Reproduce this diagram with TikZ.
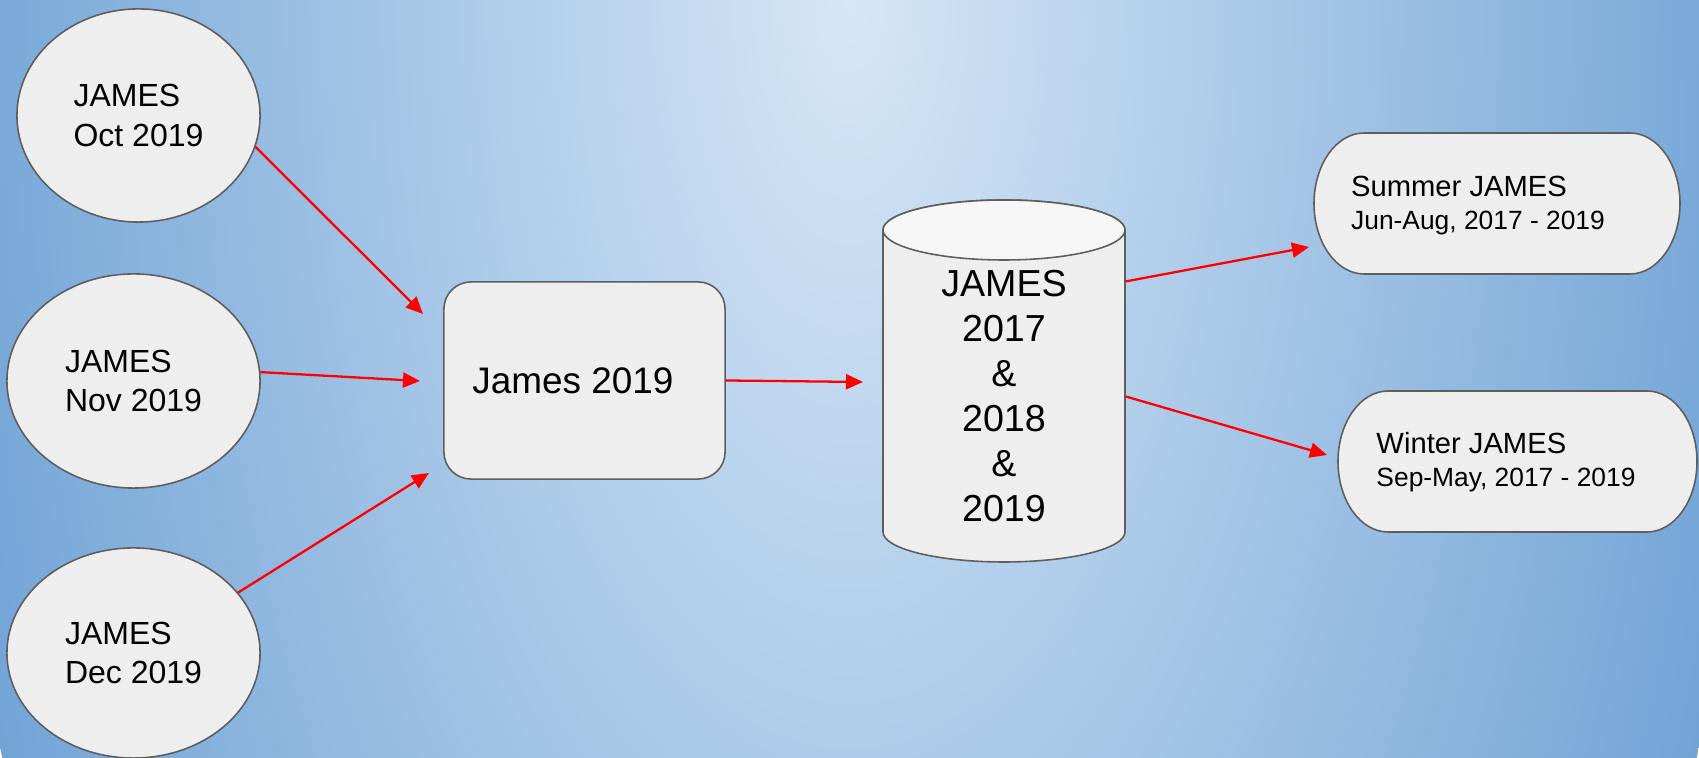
\documentclass[tikz,border=0pt]{standalone}
\usepackage{fontspec}
\setmainfont{Liberation Sans}
\usetikzlibrary{shapes.geometric, arrows.meta}

\definecolor{bginner}{HTML}{D6E6F6}
\definecolor{bgouter}{HTML}{72A4D6}
\definecolor{boxfill}{HTML}{EEEEEE}
\definecolor{capfill}{HTML}{F6F6F6}
\definecolor{edge}{HTML}{5E5E5E}

\begin{document}
\begin{tikzpicture}[x=0.01cm, y=0.01cm,
    feed/.style={red, line width=0.65pt, -{Triangle[length=0.17cm, width=0.15cm]}},
    shell/.style={draw=edge, fill=boxfill, line width=0.45pt},
    month/.style={shell, ellipse, inner sep=0pt, align=left,
        font=\fontsize{9.1pt}{11.1pt}\selectfont},
    season/.style={align=left, inner sep=0pt,
        font=\fontsize{7.5pt}{9.3pt}\selectfont}]

    % Background with padding
    \useasboundingbox (0,0) rectangle (1699,758);
    \begin{scope}
        \clip (0,0) rectangle (1699,758);
        \shade[inner color=bginner, outer color=bgouter]
            (849.5,758) ellipse [x radius=924, y radius=1895];
    \end{scope}

    % Monthly files
    \node[month, minimum width=2.43cm, minimum height=2.13cm] (oct) at (138.5,642.5) {JAMES\\Oct 2019};
    \node[month, minimum width=2.53cm, minimum height=2.14cm] (nov) at (133.5,377) {JAMES\\Nov 2019};
    \node[month, minimum width=2.53cm, minimum height=2.10cm] (dec) at (133.5,105) {JAMES\\Dec 2019};

    % Yearly file
    \node[shell, rounded corners=0.27cm, minimum width=2.81cm, minimum height=1.97cm,
        font=\fontsize{10.5pt}{12pt}\selectfont] (year) at (584.5,377.5) {James 2019\hspace*{0.23cm}};

    % Database cylinder
    \path[shell] (883,528) -- (883,226)
        arc[start angle=180, end angle=360, x radius=121, y radius=30]
        -- (1125,528)
        arc[start angle=0, end angle=180, x radius=121, y radius=30] -- cycle;
    \draw[shell, fill=capfill] (1004,528) ellipse [x radius=121, y radius=30];
    \node[align=center, minimum width=2.42cm, inner sep=0pt,
        font=\fontsize{10.7pt}{12.8pt}\selectfont] (db) at (1004,361.5)
        {JAMES\\2017\\\&\\2018\\\&\\2019};

    % Seasonal files
    \path[shell] (1364,625) -- (1630,625)
        arc[start angle=90, end angle=-90, x radius=50, y radius=70.5]
        -- (1364,484)
        arc[start angle=270, end angle=90, x radius=50, y radius=70.5] -- cycle;
    \node[season] (summer) at (1478,552.5)
        {{\fontsize{8.3pt}{9.3pt}\selectfont Summer JAMES}\\Jun-Aug, 2017 - 2019};

    \path[shell] (1388,367) -- (1647,367)
        arc[start angle=90, end angle=-90, x radius=50, y radius=70.5]
        -- (1388,226)
        arc[start angle=270, end angle=90, x radius=50, y radius=70.5] -- cycle;
    \node[season] (winter) at (1506,295.5)
        {{\fontsize{8.3pt}{9.3pt}\selectfont Winter JAMES}\\Sep-May, 2017 - 2019};

    % Arrow tips (free ends)
    \coordinate (octtip) at (423,444);
    \coordinate (novtip) at (420,377);
    \coordinate (dectip) at (429,285);
    \coordinate (dbin) at (863,376);
    \coordinate (summertip) at (1309,511);
    \coordinate (wintertip) at (1327,303);

    % Flows
    \draw[feed] (oct.-15) -- (octtip);
    \draw[feed] (nov.4) -- (novtip);
    \draw[feed] (dec.30) -- (dectip);
    \draw[feed] (year.east) -- (dbin);
    \draw[feed] ([yshift=1.15cm]db.east) -- (summertip);
    \draw[feed] (db.east) -- (wintertip);

\end{tikzpicture}
\end{document}
